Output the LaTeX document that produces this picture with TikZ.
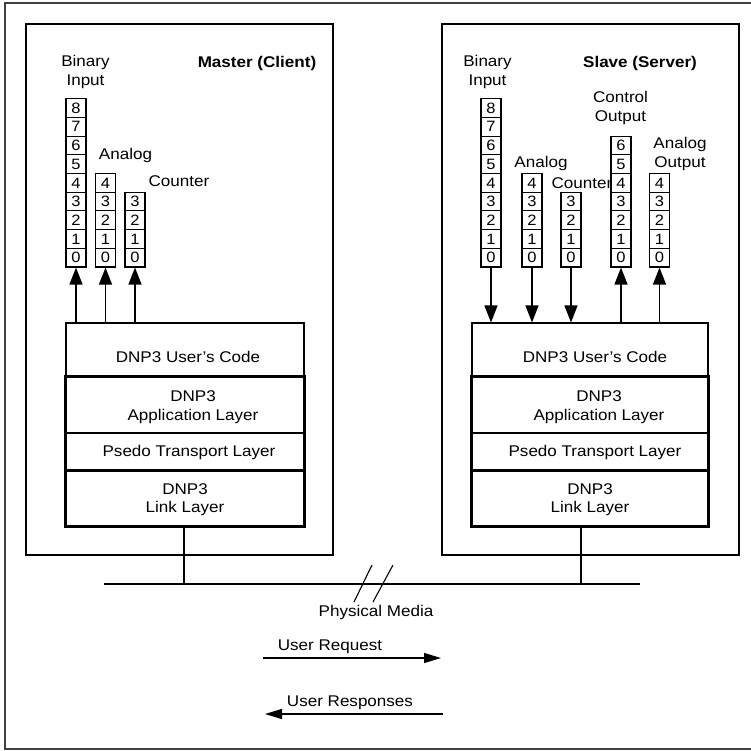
\documentclass[tikz,border=0pt]{standalone}
\usepackage{fontspec}
\setmainfont[FakeStretch=1.1]{Liberation Sans}
\usetikzlibrary{arrows.meta}
\begin{document}
\begin{tikzpicture}[x=1pt,y=-1pt,
  every node/.style={font=\fontsize{15.5}{18}\selectfont, inner sep=0pt},
  cell/.style={draw, line width=1.1pt, minimum width=20pt, minimum height=18.7pt, font=\fontsize{15}{16}\selectfont},
  box/.style={draw, line width=1.2pt, inner sep=0pt},
  layer/.style={draw, line width=1.1pt, minimum width=238pt},
  thickline/.style={line width=2.2pt},
  frameline/.style={line width=2.6pt, draw=black!75},
  arr/.style={line width=1.3pt, -{Triangle[length=17pt,width=13pt]}},
  harr/.style={line width=1.3pt, -{Triangle[length=17pt,width=10pt]}},
  lbl/.style={align=center, font=\fontsize{15.5}{18.5}\selectfont},
]
\useasboundingbox (0,0) rectangle (751,750);
% outer frame (no right side)
\draw[frameline] (751,3) -- (5,3) -- (5,749) -- (751,749);

% ---------------- Master ----------------
\node[box, minimum width=307pt, minimum height=531pt] (mbox) at (179.5,289.5) {};
\node[lbl] (mbilbl) at (85.5,72) {Binary\\Input};
\node[lbl, font=\bfseries\fontsize{15.5}{18}\selectfont] (mtitle) at (257,63) {Master (Client)};
\node[lbl] (manlbl) at (125.5,155) {Analog};
\node[lbl] (mctlbl) at (179,181) {Counter};

\foreach \i in {0,...,8} \node[cell] (mbi\i) at (76,257.65-18.7*\i) {\i};
\foreach \i in {0,...,4} \node[cell] (man\i) at (105.5,257.65-18.7*\i) {\i};
\foreach \i in {0,...,3} \node[cell] (mct\i) at (135,257.65-18.7*\i) {\i};

\node[layer, minimum height=54pt] (mucode) at (185,350) {};
\node (mucodet) at (188,357) {DNP3 User's Code};
\node[layer, minimum height=56pt] (mapp) at (185,405) {};
\node[lbl] (mappt) at (193,407) {DNP3\\Application Layer};
\node[layer, minimum height=38pt] (mtr) at (185,452) {};
\node (mtrt) at (189,452) {Psedo Transport Layer};
\node[layer, minimum height=55pt] (mlink) at (185,498.5) {};
\node[lbl] (mlinkt) at (185,499.5) {DNP3\\Link Layer};
\draw[thickline] (mapp.north west) rectangle (mlink.south east);
\draw[thickline] (mlink.north west) -- (mlink.north east);

\draw[arr] (mucode.north -| mbi0.south) -- (mbi0.south);
\draw[arr] (mucode.north -| man0.south) -- (man0.south);
\draw[arr] (mucode.north -| mct0.south) -- (mct0.south);

% ---------------- Slave ----------------
\node[box, minimum width=297pt, minimum height=531pt] (sbox) at (590.5,289.5) {};
\node[lbl] (sbilbl) at (487.5,72) {Binary\\Input};
\node[lbl, font=\bfseries\fontsize{15.5}{18}\selectfont] (stitle) at (640,63) {Slave (Server)};
\node[lbl] (sanlbl) at (541,163) {Analog};
\node[lbl] (sctlbl) at (582,183) {Counter};
\node[lbl] (scolbl) at (620.5,108) {Control\\Output};
\node[lbl] (saolbl) at (680,154) {Analog\\Output};

\foreach \i in {0,...,8} \node[cell] (sbi\i) at (491,257.65-18.7*\i) {\i};
\foreach \i in {0,...,4} \node[cell] (san\i) at (532,257.65-18.7*\i) {\i};
\foreach \i in {0,...,3} \node[cell] (sct\i) at (571,257.65-18.7*\i) {\i};
\foreach \i in {0,...,6} \node[cell, fill=white] (sco\i) at (621,257.65-18.7*\i) {\i};
\foreach \i in {0,...,4} \node[cell] (sao\i) at (659.5,257.65-18.7*\i) {\i};

\node[layer, minimum width=236pt, minimum height=54pt] (sucode) at (590,350) {};
\node (sucodet) at (595,357) {DNP3 User's Code};
\node[layer, minimum width=236pt, minimum height=56pt] (sapp) at (590,405) {};
\node[lbl] (sappt) at (599,407) {DNP3\\Application Layer};
\node[layer, minimum width=236pt, minimum height=38pt] (str) at (590,452) {};
\node (strt) at (595,452) {Psedo Transport Layer};
\node[layer, minimum width=236pt, minimum height=55pt] (slink) at (590,498.5) {};
\node[lbl] (slinkt) at (590,499.5) {DNP3\\Link Layer};
\draw[thickline] (sapp.north west) rectangle (slink.south east);
\draw[thickline] (slink.north west) -- (slink.north east);

\draw[arr] (sbi0.south) -- (sucode.north -| sbi0.south);
\draw[arr] (san0.south) -- (sucode.north -| san0.south);
\draw[arr] (sct0.south) -- (sucode.north -| sct0.south);
\draw[arr] (sucode.north -| sco0.south) -- (sco0.south);
\draw[arr] (sucode.north -| sao0.south) -- (sao0.south);

% ---------------- Physical media ----------------
\coordinate (busL) at (104,584);
\coordinate (busR) at (640,584);
\coordinate (mdrop) at (184,584);
\coordinate (sdrop) at (581,584);
\draw[line width=1.2pt] (busL) -- (busR);
\draw[line width=1.2pt] (mlink.south -| mdrop) -- (mdrop);
\draw[line width=1.2pt] (slink.south -| sdrop) -- (sdrop);
\coordinate (s1a) at (354,602); \coordinate (s1b) at (372,565);
\coordinate (s2a) at (373,602); \coordinate (s2b) at (393,565);
\draw[line width=1.1pt] (s1a) -- (s1b);
\draw[line width=1.1pt] (s2a) -- (s2b);
\node (pm) at (376,612) {Physical Media};

\node (ureq) at (330,647) {User Request};
\coordinate (ureqA) at (263,658); \coordinate (ureqB) at (441,658);
\draw[harr] (ureqA) -- (ureqB);
\node (ures) at (350,703) {User Responses};
\coordinate (uresA) at (443,714); \coordinate (uresB) at (265,714);
\draw[harr] (uresA) -- (uresB);
\end{tikzpicture}
\end{document}
